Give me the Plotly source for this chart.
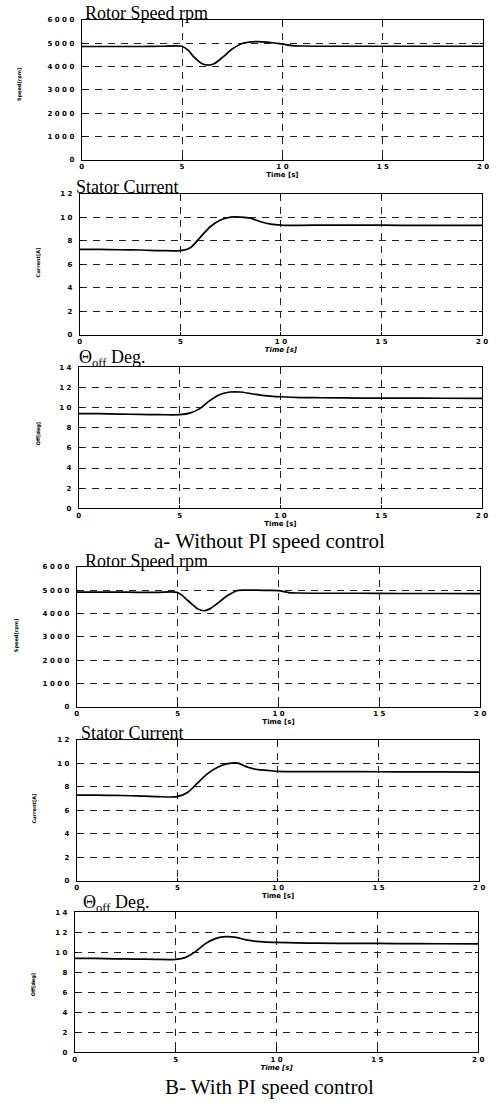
import plotly.graph_objects as go

# ---------------- data ----------------
time_tick_labels = ["0", "5", "10", "15", "20"]

# a- Without PI speed control
t_speed_a = [0, 1, 2, 3, 4, 5, 5.3, 5.6, 6.0, 6.3, 6.6, 7.0, 7.5, 8.0, 8.5, 9.0, 9.5, 10, 10.5, 11, 12, 14, 16, 18, 20]
speed_a = [4860, 4860, 4860, 4860, 4870, 4870, 4700, 4400, 4120, 4060, 4120, 4380, 4750, 4990, 5060, 5060, 5020,
           4960, 4900, 4880, 4870, 4870, 4870, 4870, 4870]

t_cur_a = [0, 1, 2, 3, 4, 5, 5.5, 6, 6.5, 7, 7.5, 8, 8.5, 9, 9.5, 10, 10.5, 11, 12, 14, 16, 18, 20]
current_a = [7.25, 7.25, 7.22, 7.2, 7.15, 7.15, 7.4, 8.3, 9.2, 9.75, 10.0, 10.0, 9.9, 9.6, 9.4, 9.32, 9.3, 9.3,
             9.32, 9.32, 9.3, 9.3, 9.3]

t_off_a = [0, 1, 2, 3, 4, 5, 5.5, 6, 6.5, 7, 7.5, 8, 8.5, 9, 9.5, 10, 11, 12, 14, 16, 18, 20]
theta_off_a = [9.4, 9.4, 9.35, 9.33, 9.3, 9.3, 9.45, 9.9, 10.7, 11.3, 11.55, 11.55, 11.4, 11.25, 11.15, 11.08,
               11.0, 10.98, 10.95, 10.95, 10.93, 10.92]

# B- With PI speed control
t_speed_b = [0, 1, 2, 3, 4, 5, 5.5, 6, 6.3, 6.6, 7, 7.5, 8, 8.5, 9, 9.5, 10, 10.5, 11, 12, 14, 16, 18, 20]
speed_b = [4920, 4920, 4920, 4910, 4910, 4900, 4560, 4200, 4120, 4200, 4450, 4780, 4990, 5000, 5000, 4990, 4980,
           4900, 4880, 4870, 4870, 4860, 4860, 4850]

t_cur_b = [0, 1, 2, 3, 4, 5, 5.5, 6, 6.5, 7, 7.5, 8, 8.5, 9, 9.5, 10, 11, 12, 14, 16, 18, 20]
current_b = [7.27, 7.27, 7.25, 7.22, 7.15, 7.15, 7.5, 8.3, 9.1, 9.65, 9.95, 10.0, 9.65, 9.45, 9.38, 9.3, 9.28,
             9.28, 9.27, 9.26, 9.25, 9.24]

t_off_b = [0, 1, 2, 3, 4, 5, 5.5, 6, 6.5, 7, 7.5, 8, 8.5, 9, 9.5, 10, 11, 12, 14, 16, 18, 20]
theta_off_b = [9.4, 9.4, 9.35, 9.33, 9.3, 9.3, 9.5, 10.1, 10.9, 11.4, 11.58, 11.5, 11.25, 11.1, 11.03, 11.0,
               10.95, 10.92, 10.9, 10.88, 10.86, 10.85]

speed_ticks = [0, 1000, 2000, 3000, 4000, 5000, 6000]
current_ticks = [0, 2, 4, 6, 8, 10, 12]
off_ticks = [0, 2, 4, 6, 8, 10, 12, 14]

panel_titles = ["Rotor Speed rpm", "Stator Current", "Θ<sub>off</sub> Deg.",
                "Rotor Speed rpm", "Stator Current", "Θ<sub>off</sub> Deg."]
y_titles = ["Speed[rpm]", "Current[A]", "Off[deg]", "Speed[rpm]", "Current[A]", "Off[deg]"]
x_titles = ["Time [s]", "<i>Time [s]</i>", "Time [s]", "Time [s]", "Time [s]", "<i>Time [s]</i>"]
captions = ["a- Without PI speed control", "B- With PI speed control"]

# ---------------- layout geometry (pixels) ----------------
W, H = 497, 1103
boxes = [  # left, top, right, bottom
    (81, 16, 489, 157),
    (79, 191, 488, 333),
    (78, 366, 488, 508),
    (76, 567, 486, 708),
    (76, 741, 485, 883),
    (74, 915, 484, 1056),
]
title_pos = [(82, 16), (73, 191), (76, 366), (82, 568), (78, 741), (80, 915)]
ytitle_pos = [(18, 81), (37, 260), (37, 433), (15, 636), (33, 810), (32, 988)]
caption_pos = [(272, 541), (272, 1091)]

series = [
    (t_speed_a, speed_a, speed_ticks),
    (t_cur_a, current_a, current_ticks),
    (t_off_a, theta_off_a, off_ticks),
    (t_speed_b, speed_b, speed_ticks),
    (t_cur_b, current_b, current_ticks),
    (t_off_b, theta_off_b, off_ticks),
]


def spaced(s):
    return " ".join(list(s))


def px_x(x):
    return x / W


def px_y(y):
    return 1 - y / H


fig = go.Figure()
tick_font = dict(family="DejaVu Sans", size=7, color="black", weight="bold")
annotations = []
for i, ((tx, vy, yt), (l, t, r, b)) in enumerate(zip(series, boxes)):
    n = "" if i == 0 else str(i + 1)
    fig.add_trace(go.Scatter(x=tx, y=vy, mode="lines", xaxis="x" + n, yaxis="y" + n,
                             line=dict(color="black", width=1.7, shape="spline", smoothing=0.8),
                             showlegend=False, hoverinfo="skip"))
    common = dict(showline=True, mirror="ticks", linecolor="black", linewidth=1,
                  showgrid=True, gridcolor="#222", gridwidth=1, griddash="7px,6px",
                  zeroline=False, ticks="inside", ticklen=3, tickcolor="black",
                  tickfont=tick_font)
    fig.update_layout(**{
        "xaxis" + n: dict(common, domain=[px_x(l), px_x(r)], anchor="y" + n, range=[0, 20],
                          tickvals=[0, 5, 10, 15, 20],
                          ticktext=[spaced(s) for s in time_tick_labels],
                          title=dict(text=x_titles[i], standoff=0,
                                     font=dict(family="DejaVu Sans", size=7, color="black", weight="bold"))),
        "yaxis" + n: dict(common, domain=[px_y(b), px_y(t)], anchor="x" + n, range=[0, yt[-1]],
                          tickvals=yt, ticktext=[spaced(str(v)) for v in yt],
                          ticklabelstandoff=5),
    })
    tx0, ty0 = title_pos[i]
    annotations.append(dict(text=panel_titles[i], x=px_x(tx0), y=px_y(ty0 + 5), xref="paper", yref="paper",
                            xanchor="left", yanchor="bottom", showarrow=False,
                            font=dict(family="Liberation Serif", size=18, color="black")))
    yx, yy = ytitle_pos[i]
    annotations.append(dict(text=y_titles[i], x=px_x(yx), y=px_y(yy), xref="paper", yref="paper",
                            xanchor="center", yanchor="middle", textangle=-90, showarrow=False,
                            font=dict(family="DejaVu Sans", size=5, color="black", weight="bold")))

for (cx, cy), txt in zip(caption_pos, captions):
    annotations.append(dict(text=txt, x=px_x(cx), y=px_y(cy), xref="paper", yref="paper",
                            xanchor="center", yanchor="middle", showarrow=False,
                            font=dict(family="Liberation Serif", size=21, color="black")))

fig.update_layout(width=W, height=H, margin=dict(l=0, r=0, t=0, b=0),
                  paper_bgcolor="white", plot_bgcolor="white",
                  annotations=annotations, showlegend=False)

fig.write_html("out.html")
